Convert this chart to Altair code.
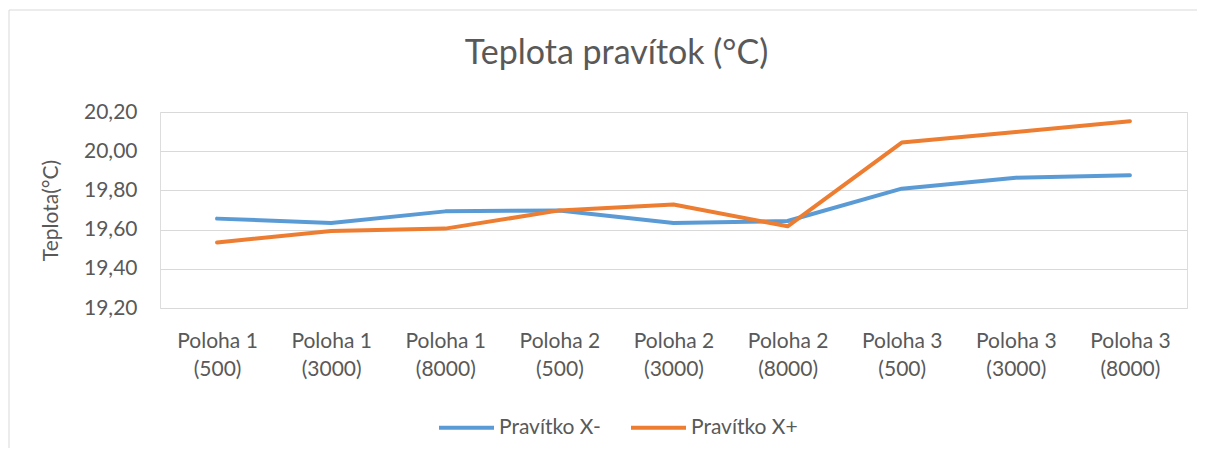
import altair as alt
import pandas as pd

categories = ["Poloha 1\n(500)", "Poloha 1\n(3000)", "Poloha 1\n(8000)",
              "Poloha 2\n(500)", "Poloha 2\n(3000)", "Poloha 2\n(8000)",
              "Poloha 3\n(500)", "Poloha 3\n(3000)", "Poloha 3\n(8000)"]
x_minus = [19.656, 19.634, 19.693, 19.698, 19.634, 19.644, 19.809, 19.865, 19.877]
x_plus = [19.534, 19.593, 19.605, 19.698, 19.728, 19.617, 20.044, 20.098, 20.153]
series = ["Pravítko X-", "Pravítko X+"]
colors = ["#5B9BD5", "#ED7D31"]
y_ticks = [19.2, 19.4, 19.6, 19.8, 20.0, 20.2]

rows = []
for c, v in zip(categories, x_minus):
    rows.append({"cat": c, "val": v, "s": series[0]})
for c, v in zip(categories, x_plus):
    rows.append({"cat": c, "val": v, "s": series[1]})
df = pd.DataFrame(rows)

FONT = "Lato"
TXT = "#595959"

lines = alt.Chart(df).mark_line(strokeWidth=4, strokeCap="round", strokeJoin="round").encode(
    x=alt.X("cat:N", sort=categories, scale=alt.Scale(type="point", padding=0.5),
            axis=alt.Axis(title=None, labelAngle=0, labelExpr="split(datum.value, '\\n')",
                          labelLineHeight=28, labelPadding=22, labelFontSize=21,
                          labelColor=TXT, labelFont=FONT, ticks=False, domain=False, grid=False)),
    y=alt.Y("val:Q", scale=alt.Scale(domain=[19.2, 20.2], nice=False, zero=False),
            axis=alt.Axis(title="Teplota(°C)", values=y_ticks,
                          labelExpr="replace(format(datum.value, '.2f'), '.', ',')",
                          labelFontSize=21, labelColor=TXT, labelFont=FONT, labelPadding=23,
                          titleFontSize=21, titleColor=TXT, titleFont=FONT, titleFontWeight="normal",
                          titlePadding=22, ticks=False, domain=False,
                          gridColor="#D9D9D9", gridWidth=1.2)),
    color=alt.Color("s:N", scale=alt.Scale(domain=series, range=colors),
                    legend=alt.Legend(title=None, orient="none", legendX=277, legendY=286,
                                      direction="horizontal", symbolType="stroke",
                                      symbolSize=3025, symbolStrokeWidth=4,
                                      labelFontSize=21, labelColor=TXT, labelFont=FONT,
                                      labelOffset=3, columnPadding=22)),
)

border = alt.Chart(pd.DataFrame({"a": [0]})).mark_rect(fill=None, stroke="#D9D9D9", strokeWidth=1).encode(
    x=alt.value(-151), x2=alt.value(1047), y=alt.value(-102), y2=alt.value(400)
)

chart = alt.layer(border, lines).properties(
    width=1027, height=196,
    title=alt.TitleParams("Teplota pravítok (°C)", fontSize=34, font=FONT, color=TXT,
                          fontWeight="normal", offset=-61, dx=-57, anchor="middle"),
    autosize=alt.AutoSizeParams(type="none"),
    padding={"left": 152, "top": 104, "right": 10, "bottom": 140},
).configure_view(stroke=None).configure(background="white")

chart.save("out.html", embed_options={"renderer": "svg", "actions": False})
